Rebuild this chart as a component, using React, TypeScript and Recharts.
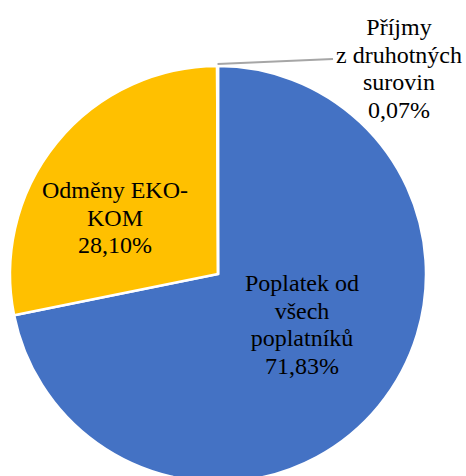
import { Cell, Pie, PieChart } from 'recharts';

const categories = ['Poplatek od všech poplatníků', 'Odměny EKO-KOM', 'Příjmy z druhotných surovin'];
const shares = [71.83, 28.1, 0.07];
const labelLines = [
  ['Poplatek od', 'všech', 'poplatníků'],
  ['Odměny EKO-', 'KOM'],
  ['Příjmy', 'z druhotných', 'surovin'],
];

const colors = ['#4472c4', '#ffc000', '#a5a5a5'];
const serif = '"Liberation Serif", "Times New Roman", Times, serif';

// label anchor offsets from the pie centre (x centre, first baseline)
const labelLayout = [
  { dx: 84, dy: 17, leader: false },
  { dx: -103, dy: -76, leader: false },
  { dx: 181, dy: -239, leader: true },
];

const data = categories.map((name, i) => ({ name, value: shares[i] }));

const RAD = Math.PI / 180;
const lineHeight = 27.5;

function renderLabel(props: any) {
  const { cx, cy, midAngle, outerRadius, index, value } = props;
  const layout = labelLayout[index];
  const lines = [...labelLines[index], value.toFixed(2).replace('.', ',') + '%'];
  const x = cx + layout.dx;
  const y0 = cy + layout.dy;
  const ox = cx + (outerRadius + 2) * Math.cos(-midAngle * RAD);
  const oy = cy + (outerRadius + 2) * Math.sin(-midAngle * RAD);
  return (
    <g key={`label-${index}`}>
      {layout.leader && (
        <polyline points={`${ox},${oy} ${cx + 115},${cy - 215}`} fill="none" stroke="#a6a6a6" strokeWidth={2} />
      )}
      <text x={x} y={y0} textAnchor="middle" fill="#000" style={{ fontFamily: serif, fontSize: 24 }}>
        {lines.map((line, i) => (
          <tspan key={i} x={x} y={y0 + i * lineHeight} style={{ fontFamily: serif }}>
            {line}
          </tspan>
        ))}
      </text>
    </g>
  );
}

export default function App() {
  return (
    <div style={{ position: 'absolute', left: 0, top: 0, width: 466, height: 476, background: '#fff', overflow: 'hidden', fontFamily: serif }}>
      <PieChart width={466} height={476} margin={{ top: 0, right: 0, bottom: 0, left: 0 }} style={{ fontFamily: serif }}>
        <Pie
          data={data}
          dataKey="value"
          nameKey="name"
          cx={218}
          cy={274}
          outerRadius={208}
          startAngle={90}
          endAngle={-270}
          stroke="#fff"
          strokeWidth={2.5}
          label={renderLabel}
          labelLine={false}
          isAnimationActive={false}
        >
          {data.map((entry, index) => (
            <Cell key={entry.name} fill={colors[index]} />
          ))}
        </Pie>
      </PieChart>
    </div>
  );
}
